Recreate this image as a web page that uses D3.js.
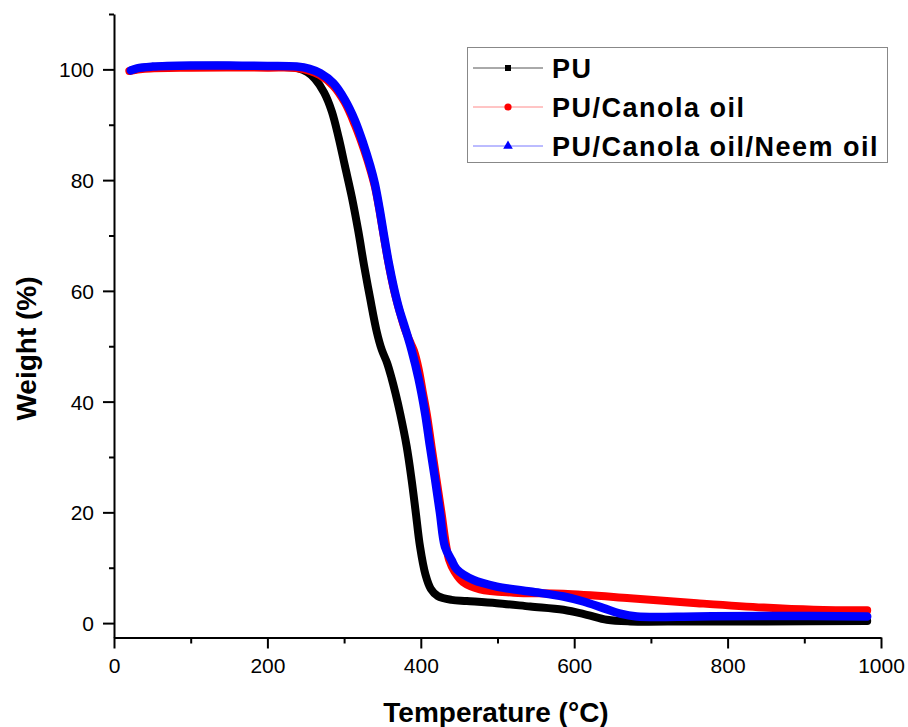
<!DOCTYPE html>
<html><head><meta charset="utf-8">
<script src="https://cdn.jsdelivr.net/npm/d3@7"></script>
<style>body{margin:0;background:#fff}svg{display:block}</style>
</head><body>
<svg id="c" width="908" height="727"></svg>
<script>
const seriesNames = ["PU", "PU/Canola oil", "PU/Canola oil/Neem oil"];
const seriesColors = ["#000000", "#ff0000", "#0000ff"];
const legendLineColors = ["#555555", "#ff8a8a", "#7878ff"];
const xMajorTicks = [0, 200, 400, 600, 800, 1000];
const xMinorTicks = [100, 300, 500, 700, 900];
const yMajorTicks = [0, 20, 40, 60, 80, 100];
const yMinorTicks = [10, 30, 50, 70, 90, 110];

const puTemp =   [25, 40, 100, 200, 240, 252, 262, 274, 284, 293, 301, 310, 318.5, 326, 334, 342.6, 349, 356, 362, 367, 373, 381.6, 388, 393.5, 399, 406, 413, 422, 440, 460, 499, 542.6, 586, 616.5, 642.6, 673, 750, 850, 982];
const puWeight = [99.9, 100.3, 100.6, 100.5, 100.2, 99.5, 98.3, 95.8, 92.4, 87.6, 82.6, 77, 70.8, 64.6, 58.6, 52.6, 49.4, 47, 44.2, 41.5, 37.9, 31.9, 25.9, 19.9, 13.8, 8.8, 6.2, 4.9, 4.2, 4.0, 3.6, 3.0, 2.4, 1.5, 0.6, 0.3, 0.3, 0.3, 0.4];

const canTemp =   [20, 40, 100, 200, 240, 268, 286, 301, 314, 326, 335, 341, 347, 353, 359, 366, 373, 379, 385, 391, 397, 402.5, 408, 414, 420.5, 427, 432.5, 437, 444, 455, 477, 521, 586, 673, 760, 847, 912, 982];
const canWeight = [99.7, 100.1, 100.3, 100.3, 100.2, 99.0, 97.0, 94.0, 90.0, 85.5, 81.5, 78.3, 73.8, 68.8, 64.2, 59.6, 56, 53.2, 51.1, 49.2, 46, 41.8, 37.6, 31.9, 25.9, 19.9, 14.5, 11.4, 9.3, 7.4, 6.1, 5.5, 5.3, 4.5, 3.6, 2.8, 2.4, 2.3];

const neemTemp =   [22, 30, 50, 100, 150, 200, 238, 255, 269, 286, 301, 314, 325, 334, 340, 346, 352, 358, 365, 372, 379.5, 388, 397, 405.6, 412, 418.7, 425, 431.5, 440, 447, 468.6, 499, 542.6, 586, 612, 638, 660, 681.7, 760, 847, 982];
const neemWeight = [99.8, 100.2, 100.5, 100.7, 100.7, 100.6, 100.5, 100.1, 99.3, 97.5, 94.5, 90.8, 86.6, 82.6, 79.4, 75, 70, 65.2, 60.5, 56.6, 53.3, 49.3, 44.2, 37.9, 31.9, 25.9, 19.9, 13.8, 11.4, 9.7, 7.8, 6.6, 5.7, 4.8, 3.9, 2.7, 1.7, 1.2, 1.2, 1.3, 1.2];

const seriesTemps = [puTemp, canTemp, neemTemp];
const seriesWeights = [puWeight, canWeight, neemWeight];

const svg = d3.select("#c");
const x = d3.scaleLinear().domain([0, 1000]).range([114, 881]);
const y = d3.scaleLinear().domain([-2.6, 110]).range([637.5, 14]);

// data lines
const line = d3.line().x(d => x(d[0])).y(d => y(d[1])).curve(d3.curveCatmullRom.alpha(0.5));
seriesNames.forEach((n, i) => {
  const pts = seriesTemps[i].map((t, k) => [t, seriesWeights[i][k]]);
  svg.append("path").attr("d", line(pts)).attr("fill", "none")
    .attr("stroke", seriesColors[i]).attr("stroke-width", i === 2 ? 8.5 : 8)
    .attr("stroke-linejoin", "round").attr("stroke-linecap", "round");
});

// axes
const fontFam = "'Liberation Sans', Arial, sans-serif";
const xAxisG = svg.append("g").attr("transform", "translate(0,637.5)");
xAxisG.call(d3.axisBottom(x).tickValues(xMajorTicks).tickSize(11).tickSizeOuter(0).tickPadding(10).tickFormat(d3.format("d")));
const xMinG = svg.append("g").attr("transform", "translate(0,637.5)");
xMinG.call(d3.axisBottom(x).tickValues(xMinorTicks).tickSize(6).tickSizeOuter(0).tickFormat(""));
xMinG.select(".domain").remove();

const yAxisG = svg.append("g").attr("transform", "translate(114,0)");
yAxisG.call(d3.axisLeft(y).tickValues(yMajorTicks).tickSize(11).tickSizeOuter(0).tickPadding(9).tickFormat(d3.format("d")));
const yMinG = svg.append("g").attr("transform", "translate(114,0)");
yMinG.call(d3.axisLeft(y).tickValues(yMinorTicks).tickSize(5).tickSizeOuter(0).tickFormat(""));
yMinG.select(".domain").remove();

svg.selectAll(".domain").attr("stroke", "#000").attr("stroke-width", 2);
svg.selectAll(".tick line").attr("stroke", "#000").attr("stroke-width", 2);
svg.selectAll(".tick text").attr("font-family", fontFam).attr("font-size", 21).attr("fill", "#000");
yAxisG.selectAll(".tick text").attr("dy", "0.36em");

// axis titles
svg.append("text").attr("x", 496).attr("y", 722).attr("text-anchor", "middle")
  .attr("font-family", fontFam).attr("font-weight", "bold").attr("font-size", 28)
  .text("Temperature (°C)");
svg.append("text").attr("transform", "translate(36,348.5) rotate(-90)").attr("text-anchor", "middle")
  .attr("font-family", fontFam).attr("font-weight", "bold").attr("font-size", 28)
  .text("Weight (%)");

// legend
const lg = svg.append("g");
lg.append("rect").attr("x", 467.5).attr("y", 47.5).attr("width", 420).attr("height", 115)
  .attr("fill", "#fff").attr("stroke", "#888").attr("stroke-width", 1);
const rows = [68, 107, 146];
seriesNames.forEach((n, i) => {
  const ry = rows[i];
  lg.append("line").attr("x1", 473).attr("x2", 543).attr("y1", ry).attr("y2", ry)
    .attr("stroke", legendLineColors[i]).attr("stroke-width", 1);
  if (i === 0) {
    lg.append("rect").attr("x", 505).attr("y", ry - 3).attr("width", 6).attr("height", 6).attr("fill", seriesColors[i]);
  } else if (i === 1) {
    lg.append("circle").attr("cx", 508).attr("cy", ry).attr("r", 3.6).attr("fill", seriesColors[i]);
  } else {
    lg.append("path").attr("d", d3.symbol().type(d3.symbolTriangle).size(40)()).attr("transform", `translate(508,${ry})`)
      .attr("fill", seriesColors[i]);
  }
  lg.append("text").attr("x", 552).attr("y", ry + 9.7)
    .attr("font-family", fontFam).attr("font-weight", "bold").attr("font-size", 27)
    .attr("letter-spacing", 1.5).attr("fill", "#000").text(n);
});
</script>
</body></html>
